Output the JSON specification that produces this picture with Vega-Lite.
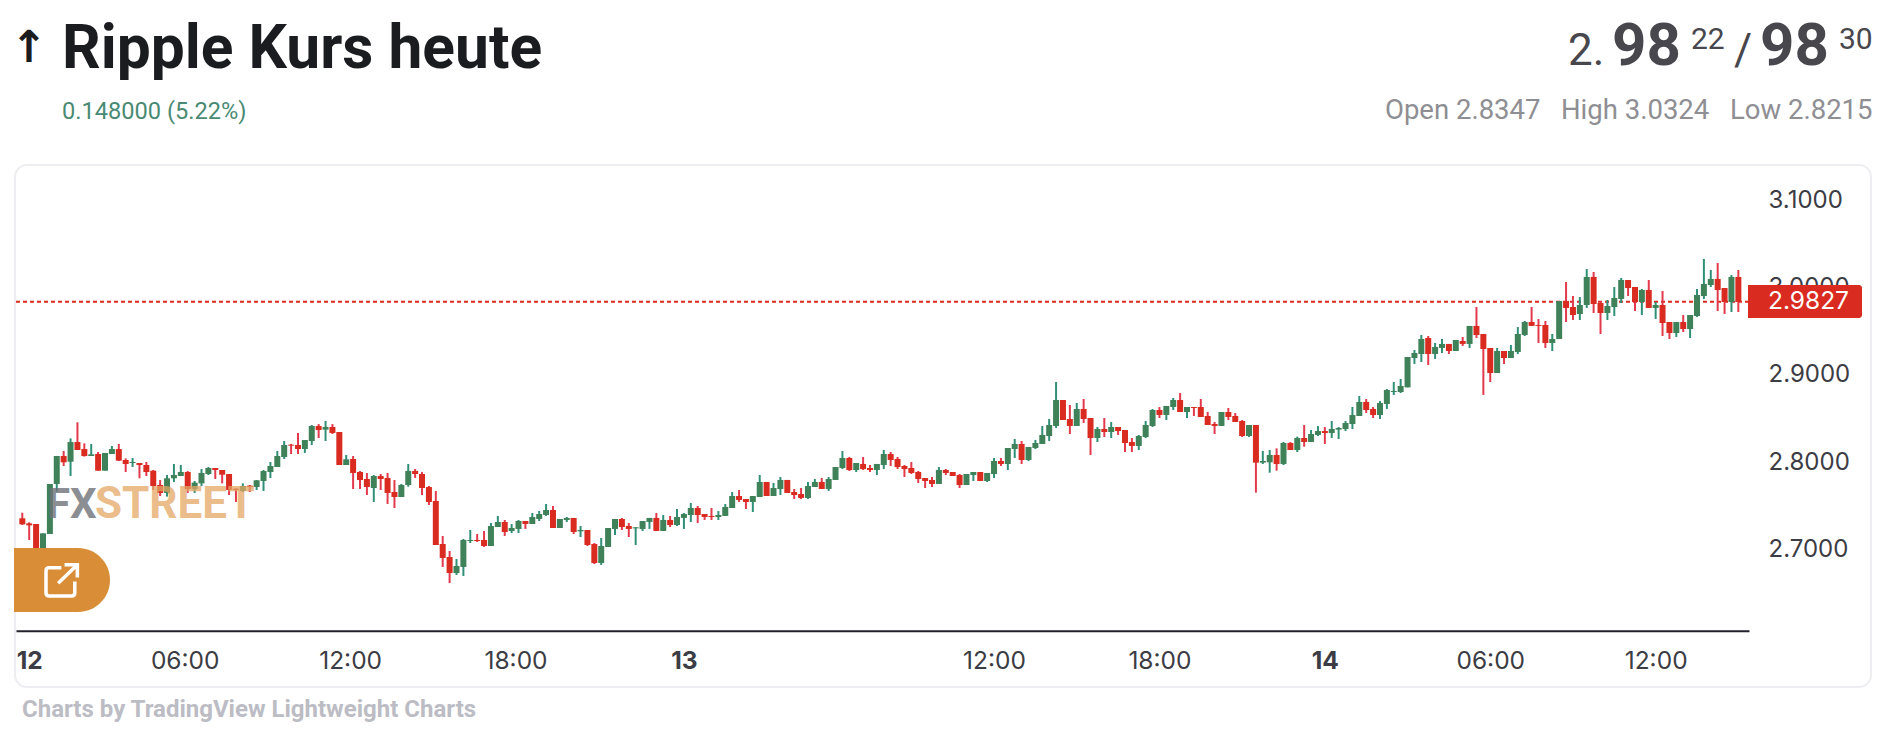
{"$schema":"https://vega.github.io/schema/vega-lite/v6.json","width":1900,"height":735,"padding":0,"autosize":"none","background":"#ffffff","config":{"view":{"stroke":null},"font":"Roboto"},"data":{"values":[{}]},"datasets":{"candles":[
{"bar":0,"open":2.7348,"high":2.7412,"low":2.7271,"close":2.7279},
{"bar":1,"open":2.7290,"high":2.7302,"low":2.7100,"close":2.7267},
{"bar":2,"open":2.7283,"high":2.7283,"low":2.6985,"close":2.6985},
{"bar":3,"open":2.6947,"high":2.7176,"low":2.6947,"close":2.7176},
{"bar":4,"open":2.7168,"high":2.7741,"low":2.7168,"close":2.7741},
{"bar":5,"open":2.7741,"high":2.8061,"low":2.7653,"close":2.8061},
{"bar":6,"open":2.8061,"high":2.8118,"low":2.7947,"close":2.7989},
{"bar":7,"open":2.7996,"high":2.8263,"low":2.7832,"close":2.8221},
{"bar":8,"open":2.8221,"high":2.8447,"low":2.8130,"close":2.8130},
{"bar":9,"open":2.8141,"high":2.8206,"low":2.8054,"close":2.8061},
{"bar":10,"open":2.8061,"high":2.8199,"low":2.8061,"close":2.8080},
{"bar":11,"open":2.8084,"high":2.8107,"low":2.7893,"close":2.7893},
{"bar":12,"open":2.7893,"high":2.8096,"low":2.7893,"close":2.8096},
{"bar":13,"open":2.8084,"high":2.8176,"low":2.8084,"close":2.8141},
{"bar":14,"open":2.8141,"high":2.8199,"low":2.8004,"close":2.8008},
{"bar":15,"open":2.8015,"high":2.8034,"low":2.7878,"close":2.7970},
{"bar":16,"open":2.7981,"high":2.8038,"low":2.7935,"close":2.7993},
{"bar":17,"open":2.7981,"high":2.7981,"low":2.7806,"close":2.7958},
{"bar":18,"open":2.7958,"high":2.7993,"low":2.7832,"close":2.7878},
{"bar":19,"open":2.7893,"high":2.7901,"low":2.7672,"close":2.7718},
{"bar":20,"open":2.7729,"high":2.7786,"low":2.7603,"close":2.7638},
{"bar":21,"open":2.7638,"high":2.7844,"low":2.7596,"close":2.7806},
{"bar":22,"open":2.7806,"high":2.7970,"low":2.7764,"close":2.7844},
{"bar":23,"open":2.7832,"high":2.7958,"low":2.7832,"close":2.7878},
{"bar":24,"open":2.7878,"high":2.7889,"low":2.7638,"close":2.7683},
{"bar":25,"open":2.7683,"high":2.7775,"low":2.7638,"close":2.7756},
{"bar":26,"open":2.7748,"high":2.7912,"low":2.7718,"close":2.7867},
{"bar":27,"open":2.7855,"high":2.7935,"low":2.7844,"close":2.7924},
{"bar":28,"open":2.7924,"high":2.7924,"low":2.7798,"close":2.7901},
{"bar":29,"open":2.7901,"high":2.7901,"low":2.7748,"close":2.7847},
{"bar":30,"open":2.7855,"high":2.7855,"low":2.7615,"close":2.7672},
{"bar":31,"open":2.7687,"high":2.7691,"low":2.7535,"close":2.7672},
{"bar":32,"open":2.7661,"high":2.7748,"low":2.7649,"close":2.7718},
{"bar":33,"open":2.7722,"high":2.7729,"low":2.7649,"close":2.7706},
{"bar":34,"open":2.7706,"high":2.7786,"low":2.7672,"close":2.7783},
{"bar":35,"open":2.7775,"high":2.7901,"low":2.7661,"close":2.7889},
{"bar":36,"open":2.7878,"high":2.7993,"low":2.7809,"close":2.7947},
{"bar":37,"open":2.7935,"high":2.8118,"low":2.7935,"close":2.8061},
{"bar":38,"open":2.8050,"high":2.8233,"low":2.8027,"close":2.8187},
{"bar":39,"open":2.8191,"high":2.8199,"low":2.8084,"close":2.8180},
{"bar":40,"open":2.8187,"high":2.8325,"low":2.8084,"close":2.8141},
{"bar":41,"open":2.8141,"high":2.8244,"low":2.8096,"close":2.8244},
{"bar":42,"open":2.8233,"high":2.8416,"low":2.8187,"close":2.8405},
{"bar":43,"open":2.8405,"high":2.8427,"low":2.8267,"close":2.8359},
{"bar":44,"open":2.8363,"high":2.8462,"low":2.8233,"close":2.8393},
{"bar":45,"open":2.8393,"high":2.8427,"low":2.8313,"close":2.8325},
{"bar":46,"open":2.8336,"high":2.8336,"low":2.7958,"close":2.7958},
{"bar":47,"open":2.7958,"high":2.8073,"low":2.7958,"close":2.8023},
{"bar":48,"open":2.8027,"high":2.8061,"low":2.7683,"close":2.7867},
{"bar":49,"open":2.7878,"high":2.7889,"low":2.7683,"close":2.7786},
{"bar":50,"open":2.7798,"high":2.7867,"low":2.7615,"close":2.7706},
{"bar":51,"open":2.7695,"high":2.7844,"low":2.7535,"close":2.7832},
{"bar":52,"open":2.7832,"high":2.7855,"low":2.7672,"close":2.7798},
{"bar":53,"open":2.7809,"high":2.7867,"low":2.7512,"close":2.7638},
{"bar":54,"open":2.7649,"high":2.7786,"low":2.7466,"close":2.7592},
{"bar":55,"open":2.7592,"high":2.7741,"low":2.7592,"close":2.7729},
{"bar":56,"open":2.7729,"high":2.7970,"low":2.7710,"close":2.7890},
{"bar":57,"open":2.7890,"high":2.7913,"low":2.7810,"close":2.7855},
{"bar":58,"open":2.7855,"high":2.7879,"low":2.7615,"close":2.7695},
{"bar":59,"open":2.7706,"high":2.7718,"low":2.7500,"close":2.7535},
{"bar":60,"open":2.7546,"high":2.7661,"low":2.7042,"close":2.7042},
{"bar":61,"open":2.7054,"high":2.7146,"low":2.6791,"close":2.6894},
{"bar":62,"open":2.6905,"high":2.6974,"low":2.6607,"close":2.6722},
{"bar":63,"open":2.6722,"high":2.6882,"low":2.6699,"close":2.6802},
{"bar":64,"open":2.6791,"high":2.7111,"low":2.6688,"close":2.7100},
{"bar":65,"open":2.7088,"high":2.7214,"low":2.7065,"close":2.7100},
{"bar":66,"open":2.7100,"high":2.7168,"low":2.7077,"close":2.7088},
{"bar":67,"open":2.7100,"high":2.7203,"low":2.7020,"close":2.7031},
{"bar":68,"open":2.7031,"high":2.7294,"low":2.7031,"close":2.7260},
{"bar":69,"open":2.7248,"high":2.7375,"low":2.7248,"close":2.7306},
{"bar":70,"open":2.7306,"high":2.7329,"low":2.7146,"close":2.7191},
{"bar":71,"open":2.7203,"high":2.7283,"low":2.7180,"close":2.7237},
{"bar":72,"open":2.7226,"high":2.7329,"low":2.7180,"close":2.7317},
{"bar":73,"open":2.7317,"high":2.7317,"low":2.7226,"close":2.7283},
{"bar":74,"open":2.7283,"high":2.7409,"low":2.7283,"close":2.7363},
{"bar":75,"open":2.7340,"high":2.7432,"low":2.7317,"close":2.7397},
{"bar":76,"open":2.7386,"high":2.7512,"low":2.7375,"close":2.7443},
{"bar":77,"open":2.7443,"high":2.7489,"low":2.7237,"close":2.7237},
{"bar":78,"open":2.7237,"high":2.7340,"low":2.7237,"close":2.7340},
{"bar":79,"open":2.7329,"high":2.7363,"low":2.7306,"close":2.7352},
{"bar":80,"open":2.7352,"high":2.7352,"low":2.7168,"close":2.7191},
{"bar":81,"open":2.7199,"high":2.7260,"low":2.7134,"close":2.7214},
{"bar":82,"open":2.7214,"high":2.7214,"low":2.7031,"close":2.7042},
{"bar":83,"open":2.7054,"high":2.7065,"low":2.6825,"close":2.6836},
{"bar":84,"open":2.6836,"high":2.7123,"low":2.6814,"close":2.7031},
{"bar":85,"open":2.7020,"high":2.7237,"low":2.7020,"close":2.7237},
{"bar":86,"open":2.7226,"high":2.7340,"low":2.7157,"close":2.7340},
{"bar":87,"open":2.7340,"high":2.7352,"low":2.7214,"close":2.7248},
{"bar":88,"open":2.7260,"high":2.7294,"low":2.7134,"close":2.7226},
{"bar":89,"open":2.7233,"high":2.7248,"low":2.7042,"close":2.7245},
{"bar":90,"open":2.7226,"high":2.7317,"low":2.7203,"close":2.7317},
{"bar":91,"open":2.7306,"high":2.7352,"low":2.7226,"close":2.7352},
{"bar":92,"open":2.7352,"high":2.7409,"low":2.7203,"close":2.7203},
{"bar":93,"open":2.7203,"high":2.7386,"low":2.7203,"close":2.7329},
{"bar":94,"open":2.7329,"high":2.7375,"low":2.7248,"close":2.7271},
{"bar":95,"open":2.7271,"high":2.7455,"low":2.7260,"close":2.7363},
{"bar":96,"open":2.7352,"high":2.7409,"low":2.7226,"close":2.7397},
{"bar":97,"open":2.7386,"high":2.7523,"low":2.7306,"close":2.7466},
{"bar":98,"open":2.7466,"high":2.7489,"low":2.7294,"close":2.7386},
{"bar":99,"open":2.7397,"high":2.7397,"low":2.7329,"close":2.7363},
{"bar":100,"open":2.7375,"high":2.7466,"low":2.7329,"close":2.7363},
{"bar":101,"open":2.7363,"high":2.7432,"low":2.7329,"close":2.7386},
{"bar":102,"open":2.7375,"high":2.7512,"low":2.7375,"close":2.7477},
{"bar":103,"open":2.7466,"high":2.7649,"low":2.7466,"close":2.7603},
{"bar":104,"open":2.7603,"high":2.7672,"low":2.7535,"close":2.7558},
{"bar":105,"open":2.7569,"high":2.7569,"low":2.7455,"close":2.7535},
{"bar":106,"open":2.7535,"high":2.7603,"low":2.7420,"close":2.7603},
{"bar":107,"open":2.7592,"high":2.7844,"low":2.7592,"close":2.7764},
{"bar":108,"open":2.7764,"high":2.7764,"low":2.7603,"close":2.7603},
{"bar":109,"open":2.7603,"high":2.7752,"low":2.7603,"close":2.7695},
{"bar":110,"open":2.7683,"high":2.7821,"low":2.7615,"close":2.7787},
{"bar":111,"open":2.7787,"high":2.7787,"low":2.7638,"close":2.7638},
{"bar":112,"open":2.7649,"high":2.7683,"low":2.7569,"close":2.7615},
{"bar":113,"open":2.7626,"high":2.7695,"low":2.7569,"close":2.7581},
{"bar":114,"open":2.7581,"high":2.7764,"low":2.7569,"close":2.7718},
{"bar":115,"open":2.7706,"high":2.7798,"low":2.7706,"close":2.7764},
{"bar":116,"open":2.7764,"high":2.7810,"low":2.7683,"close":2.7684},
{"bar":117,"open":2.7684,"high":2.7821,"low":2.7661,"close":2.7798},
{"bar":118,"open":2.7787,"high":2.7935,"low":2.7787,"close":2.7935},
{"bar":119,"open":2.7924,"high":2.8118,"low":2.7912,"close":2.8038},
{"bar":120,"open":2.8038,"high":2.8050,"low":2.7890,"close":2.7901},
{"bar":121,"open":2.7901,"high":2.7981,"low":2.7878,"close":2.7981},
{"bar":122,"open":2.7970,"high":2.8050,"low":2.7901,"close":2.7912},
{"bar":123,"open":2.7924,"high":2.7958,"low":2.7878,"close":2.7901},
{"bar":124,"open":2.7901,"high":2.7970,"low":2.7844,"close":2.7970},
{"bar":125,"open":2.7958,"high":2.8130,"low":2.7912,"close":2.8084},
{"bar":126,"open":2.8084,"high":2.8107,"low":2.7947,"close":2.8016},
{"bar":127,"open":2.8027,"high":2.8050,"low":2.7912,"close":2.7935},
{"bar":128,"open":2.7947,"high":2.7958,"low":2.7821,"close":2.7912},
{"bar":129,"open":2.7924,"high":2.7993,"low":2.7855,"close":2.7867},
{"bar":130,"open":2.7878,"high":2.7890,"low":2.7752,"close":2.7798},
{"bar":131,"open":2.7809,"high":2.7809,"low":2.7695,"close":2.7775},
{"bar":132,"open":2.7787,"high":2.7821,"low":2.7706,"close":2.7741},
{"bar":133,"open":2.7741,"high":2.7935,"low":2.7741,"close":2.7901},
{"bar":134,"open":2.7901,"high":2.7912,"low":2.7844,"close":2.7867},
{"bar":135,"open":2.7878,"high":2.7878,"low":2.7832,"close":2.7832},
{"bar":136,"open":2.7844,"high":2.7855,"low":2.7695,"close":2.7729},
{"bar":137,"open":2.7729,"high":2.7855,"low":2.7729,"close":2.7855},
{"bar":138,"open":2.7844,"high":2.7878,"low":2.7775,"close":2.7878},
{"bar":139,"open":2.7878,"high":2.7878,"low":2.7775,"close":2.7775},
{"bar":140,"open":2.7775,"high":2.7867,"low":2.7764,"close":2.7867},
{"bar":141,"open":2.7855,"high":2.8038,"low":2.7809,"close":2.8004},
{"bar":142,"open":2.8004,"high":2.8038,"low":2.7947,"close":2.7970},
{"bar":143,"open":2.7970,"high":2.8153,"low":2.7901,"close":2.8153},
{"bar":144,"open":2.8141,"high":2.8256,"low":2.8038,"close":2.8199},
{"bar":145,"open":2.8199,"high":2.8233,"low":2.7970,"close":2.8016},
{"bar":146,"open":2.8016,"high":2.8164,"low":2.8004,"close":2.8164},
{"bar":147,"open":2.8153,"high":2.8245,"low":2.8141,"close":2.8210},
{"bar":148,"open":2.8199,"high":2.8405,"low":2.8199,"close":2.8302},
{"bar":149,"open":2.8290,"high":2.8485,"low":2.8233,"close":2.8416},
{"bar":150,"open":2.8405,"high":2.8908,"low":2.8382,"close":2.8702},
{"bar":151,"open":2.8702,"high":2.8702,"low":2.8473,"close":2.8473},
{"bar":152,"open":2.8485,"high":2.8645,"low":2.8313,"close":2.8405},
{"bar":153,"open":2.8405,"high":2.8668,"low":2.8405,"close":2.8599},
{"bar":154,"open":2.8599,"high":2.8714,"low":2.8439,"close":2.8485},
{"bar":155,"open":2.8496,"high":2.8496,"low":2.8073,"close":2.8267},
{"bar":156,"open":2.8267,"high":2.8393,"low":2.8222,"close":2.8370},
{"bar":157,"open":2.8370,"high":2.8496,"low":2.8279,"close":2.8336},
{"bar":158,"open":2.8336,"high":2.8450,"low":2.8267,"close":2.8393},
{"bar":159,"open":2.8393,"high":2.8393,"low":2.8302,"close":2.8347},
{"bar":160,"open":2.8359,"high":2.8359,"low":2.8107,"close":2.8210},
{"bar":161,"open":2.8222,"high":2.8267,"low":2.8107,"close":2.8176},
{"bar":162,"open":2.8176,"high":2.8302,"low":2.8130,"close":2.8290},
{"bar":163,"open":2.8279,"high":2.8462,"low":2.8267,"close":2.8416},
{"bar":164,"open":2.8405,"high":2.8599,"low":2.8393,"close":2.8588},
{"bar":165,"open":2.8588,"high":2.8622,"low":2.8496,"close":2.8531},
{"bar":166,"open":2.8531,"high":2.8634,"low":2.8473,"close":2.8634},
{"bar":167,"open":2.8622,"high":2.8725,"low":2.8588,"close":2.8702},
{"bar":168,"open":2.8702,"high":2.8783,"low":2.8565,"close":2.8565},
{"bar":169,"open":2.8565,"high":2.8622,"low":2.8496,"close":2.8622},
{"bar":170,"open":2.8622,"high":2.8622,"low":2.8519,"close":2.8611},
{"bar":171,"open":2.8622,"high":2.8714,"low":2.8508,"close":2.8508},
{"bar":172,"open":2.8519,"high":2.8565,"low":2.8416,"close":2.8416},
{"bar":173,"open":2.8428,"high":2.8450,"low":2.8313,"close":2.8405},
{"bar":174,"open":2.8405,"high":2.8565,"low":2.8405,"close":2.8565},
{"bar":175,"open":2.8565,"high":2.8611,"low":2.8473,"close":2.8508},
{"bar":176,"open":2.8519,"high":2.8553,"low":2.8450,"close":2.8450},
{"bar":177,"open":2.8462,"high":2.8473,"low":2.8279,"close":2.8290},
{"bar":178,"open":2.8290,"high":2.8416,"low":2.8279,"close":2.8416},
{"bar":179,"open":2.8416,"high":2.8416,"low":2.7642,"close":2.7985},
{"bar":180,"open":2.7985,"high":2.8119,"low":2.7970,"close":2.8004},
{"bar":181,"open":2.7989,"high":2.8130,"low":2.7870,"close":2.8073},
{"bar":182,"open":2.8073,"high":2.8149,"low":2.7893,"close":2.7970},
{"bar":183,"open":2.7970,"high":2.8222,"low":2.7958,"close":2.8210},
{"bar":184,"open":2.8210,"high":2.8222,"low":2.8130,"close":2.8130},
{"bar":185,"open":2.8130,"high":2.8283,"low":2.8107,"close":2.8267},
{"bar":186,"open":2.8267,"high":2.8416,"low":2.8168,"close":2.8222},
{"bar":187,"open":2.8222,"high":2.8359,"low":2.8222,"close":2.8313},
{"bar":188,"open":2.8302,"high":2.8404,"low":2.8290,"close":2.8347},
{"bar":189,"open":2.8347,"high":2.8393,"low":2.8199,"close":2.8324},
{"bar":190,"open":2.8324,"high":2.8462,"low":2.8267,"close":2.8370},
{"bar":191,"open":2.8363,"high":2.8393,"low":2.8256,"close":2.8382},
{"bar":192,"open":2.8370,"high":2.8462,"low":2.8347,"close":2.8439},
{"bar":193,"open":2.8427,"high":2.8622,"low":2.8370,"close":2.8530},
{"bar":194,"open":2.8519,"high":2.8748,"low":2.8519,"close":2.8680},
{"bar":195,"open":2.8680,"high":2.8714,"low":2.8553,"close":2.8588},
{"bar":196,"open":2.8600,"high":2.8622,"low":2.8496,"close":2.8530},
{"bar":197,"open":2.8530,"high":2.8691,"low":2.8485,"close":2.8668},
{"bar":198,"open":2.8657,"high":2.8828,"low":2.8600,"close":2.8817},
{"bar":199,"open":2.8794,"high":2.8908,"low":2.8760,"close":2.8805},
{"bar":200,"open":2.8794,"high":2.8943,"low":2.8782,"close":2.8863},
{"bar":201,"open":2.8847,"high":2.9195,"low":2.8847,"close":2.9195},
{"bar":202,"open":2.9183,"high":2.9275,"low":2.9115,"close":2.9240},
{"bar":203,"open":2.9229,"high":2.9446,"low":2.9137,"close":2.9401},
{"bar":204,"open":2.9412,"high":2.9435,"low":2.9103,"close":2.9229},
{"bar":205,"open":2.9229,"high":2.9355,"low":2.9172,"close":2.9309},
{"bar":206,"open":2.9298,"high":2.9401,"low":2.9240,"close":2.9344},
{"bar":207,"open":2.9344,"high":2.9344,"low":2.9229,"close":2.9263},
{"bar":208,"open":2.9263,"high":2.9389,"low":2.9263,"close":2.9389},
{"bar":209,"open":2.9378,"high":2.9424,"low":2.9321,"close":2.9344},
{"bar":210,"open":2.9344,"high":2.9550,"low":2.9298,"close":2.9550},
{"bar":211,"open":2.9550,"high":2.9767,"low":2.9412,"close":2.9446},
{"bar":212,"open":2.9458,"high":2.9458,"low":2.8760,"close":2.9286},
{"bar":213,"open":2.9298,"high":2.9298,"low":2.8908,"close":2.9011},
{"bar":214,"open":2.9011,"high":2.9298,"low":2.9011,"close":2.9263},
{"bar":215,"open":2.9263,"high":2.9263,"low":2.9115,"close":2.9183},
{"bar":216,"open":2.9183,"high":2.9332,"low":2.9183,"close":2.9263},
{"bar":217,"open":2.9252,"high":2.9538,"low":2.9229,"close":2.9458},
{"bar":218,"open":2.9446,"high":2.9607,"low":2.9435,"close":2.9595},
{"bar":219,"open":2.9595,"high":2.9767,"low":2.9550,"close":2.9550},
{"bar":220,"open":2.9561,"high":2.9630,"low":2.9355,"close":2.9550},
{"bar":221,"open":2.9561,"high":2.9607,"low":2.9298,"close":2.9355},
{"bar":222,"open":2.9355,"high":2.9458,"low":2.9263,"close":2.9401},
{"bar":223,"open":2.9401,"high":2.9836,"low":2.9401,"close":2.9836},
{"bar":224,"open":2.9836,"high":3.0053,"low":2.9595,"close":2.9756},
{"bar":225,"open":2.9767,"high":2.9893,"low":2.9618,"close":2.9675},
{"bar":226,"open":2.9687,"high":2.9881,"low":2.9618,"close":2.9790},
{"bar":227,"open":2.9790,"high":3.0202,"low":2.9756,"close":3.0111},
{"bar":228,"open":3.0111,"high":3.0168,"low":2.9698,"close":2.9801},
{"bar":229,"open":2.9813,"high":2.9836,"low":2.9458,"close":2.9698},
{"bar":230,"open":2.9698,"high":2.9847,"low":2.9618,"close":2.9778},
{"bar":231,"open":2.9767,"high":2.9996,"low":2.9664,"close":2.9870},
{"bar":232,"open":2.9859,"high":3.0099,"low":2.9813,"close":3.0076},
{"bar":233,"open":3.0076,"high":3.0076,"low":2.9893,"close":2.9984},
{"bar":234,"open":2.9996,"high":2.9996,"low":2.9721,"close":2.9824},
{"bar":235,"open":2.9824,"high":2.9973,"low":2.9675,"close":2.9962},
{"bar":236,"open":2.9962,"high":3.0076,"low":2.9756,"close":2.9756},
{"bar":237,"open":2.9756,"high":2.9824,"low":2.9630,"close":2.9790},
{"bar":238,"open":2.9790,"high":2.9950,"low":2.9435,"close":2.9584},
{"bar":239,"open":2.9595,"high":2.9595,"low":2.9401,"close":2.9469},
{"bar":240,"open":2.9469,"high":2.9595,"low":2.9424,"close":2.9595},
{"bar":241,"open":2.9595,"high":2.9675,"low":2.9481,"close":2.9515},
{"bar":242,"open":2.9515,"high":2.9675,"low":2.9412,"close":2.9675},
{"bar":243,"open":2.9664,"high":2.9973,"low":2.9653,"close":2.9904},
{"bar":244,"open":2.9893,"high":3.0317,"low":2.9859,"close":3.0030},
{"bar":245,"open":3.0019,"high":3.0191,"low":2.9996,"close":3.0088},
{"bar":246,"open":3.0088,"high":3.0271,"low":2.9721,"close":2.9962},
{"bar":247,"open":2.9984,"high":2.9984,"low":2.9687,"close":2.9824},
{"bar":248,"open":2.9824,"high":3.0133,"low":2.9710,"close":3.0111},
{"bar":249,"open":3.0111,"high":3.0191,"low":2.9710,"close":2.9824}
]},"layer":[
{"mark":{"type":"rule","x":16,"x2":1748,"color":"#d92b20","strokeWidth":2,"strokeDash":[4,3]},"encoding":{"y":{"datum":2.9827,"type":"quantitative","scale":{"domain":[2.60613,3.1381],"range":[630.7,166],"nice":false,"zero":false}}}},
{"data":{"name":"candles"},"mark":{"type":"rule","strokeWidth":2},"encoding":{"x":{"field":"bar","type":"quantitative","scale":{"domain":[-0.19,249.82],"range":[16,1749],"nice":false,"zero":false},"axis":{"orient":"bottom","offset":-104.3,"title":null,"grid":false,"ticks":false,"domainColor":"#22222e","domainWidth":2,"labelPadding":19,"labelFont":"Inter","labelFontSize":24.5,"labelColor":"#3c3c44","labelOverlap":false,"labelFlush":false,"labelBound":false,"values":[0,24,48,72,96,141,165,189,213,237],"labelExpr":"datum.value==0?'12':datum.value==96?'13':datum.value==189?'14':(datum.value==24||datum.value==213)?'06:00':(datum.value==48||datum.value==141||datum.value==237)?'12:00':'18:00'","labelFontWeight":{"expr":"(datum.value==0||datum.value==96||datum.value==189)?'bold':'normal'"},"labelAlign":{"expr":"datum.value==0?'left':'center'"},"labelOffset":{"expr":"datum.value==0?-6:(datum.value<=72?-3:0)"}}},"y":{"field":"low","type":"quantitative","scale":{"domain":[2.60613,3.1381],"range":[630.7,166],"nice":false,"zero":false},"axis":{"orient":"right","offset":-151,"title":null,"grid":false,"ticks":false,"domain":false,"labelPadding":19,"labelFont":"Inter","labelFontSize":24,"labelColor":"#3c3c44","values":[2.7,2.8,2.9,3.0,3.1],"format":".4f","labelAlign":"left","labelBaseline":"middle","labelOffset":1}},"y2":{"field":"high"},"color":{"condition":{"test":"datum.close>=datum.open","value":"#2f9077"},"value":"#e23a4c"}}},
{"data":{"name":"candles"},"mark":{"type":"bar","size":6},"encoding":{"x":{"field":"bar","type":"quantitative"},"y":{"field":"open","type":"quantitative"},"y2":{"field":"close"},"color":{"condition":{"test":"datum.close>=datum.open","value":"#3f8158"},"value":"#d92b20"}}},
{"mark":{"type":"rect","x":0,"x2":15,"y":166,"y2":630,"fill":"#ffffff"}},
{"mark":{"type":"rect","x":15,"x2":1871,"y":165,"y2":687,"fill":null,"stroke":"#eeeef2","strokeWidth":2,"cornerRadius":12}},
{"mark":{"type":"rect","x":1748,"x2":1862,"y":285,"y2":318,"fill":"#d92b20","cornerRadiusTopRight":3,"cornerRadiusBottomRight":3}},
{"mark":{"type":"text","text":"2.9827","x":1768,"font":"Inter","fontSize":24.5,"color":"#ffffff","align":"left","baseline":"middle"},"encoding":{"y":{"datum":2.9827,"type":"quantitative"}}},
{"mark":{"type":"text","text":"FX","x":47,"y":518,"fontWeight":"bold","fontSize":42,"color":"#6f7378","opacity":0.8,"align":"left","baseline":"alphabetic"}},
{"mark":{"type":"text","text":"STREET","x":95,"y":518,"fontWeight":"bold","fontSize":44,"color":"#e3a765","opacity":0.75,"align":"left","baseline":"alphabetic"}},
{"mark":{"type":"rect","x":14,"x2":110,"y":548,"y2":612,"fill":"#d98d36","cornerRadiusTopRight":32,"cornerRadiusBottomRight":32}},
{"mark":{"type":"point","x":62,"y":580,"size":4096,"shape":"M-0.02,-0.38 L-0.4,-0.38 Q-0.5,-0.38 -0.5,-0.28 L-0.5,0.4 Q-0.5,0.5 -0.4,0.5 L0.3,0.5 Q0.4,0.5 0.4,0.4 L0.4,0.05 M-0.12,0.1 L0.48,-0.48 M0.08,-0.48 L0.48,-0.48 L0.48,-0.08","filled":false,"stroke":"#ffffff","strokeWidth":3.5,"opacity":1}},
{"mark":{"type":"text","text":"↑","x":29,"y":62,"font":"DejaVu Sans","fontWeight":"bold","fontSize":44,"color":"#1b1c20","align":"center","baseline":"alphabetic"}},
{"mark":{"type":"text","text":"Ripple Kurs heute","x":62,"y":68,"fontWeight":"bold","fontSize":60.5,"color":"#1b1c20","align":"left","baseline":"alphabetic"}},
{"mark":{"type":"text","text":"0.148000 (5.22%)","x":62,"y":119,"fontSize":23.6,"color":"#4a8a73","align":"left","baseline":"alphabetic"}},
{"mark":{"type":"text","text":"2.","x":1568,"y":65,"fontSize":44,"color":"#47474d","align":"left","baseline":"alphabetic"}},
{"mark":{"type":"text","text":"98","x":1612,"y":65,"fontWeight":"bold","fontSize":60,"color":"#47474d","align":"left","baseline":"alphabetic"}},
{"mark":{"type":"text","text":"22","x":1691,"y":49,"fontSize":30,"color":"#47474d","align":"left","baseline":"alphabetic"}},
{"mark":{"type":"text","text":"/","x":1734,"y":65,"fontSize":44,"color":"#47474d","align":"left","baseline":"alphabetic"}},
{"mark":{"type":"text","text":"98","x":1760,"y":65,"fontWeight":"bold","fontSize":60,"color":"#47474d","align":"left","baseline":"alphabetic"}},
{"mark":{"type":"text","text":"30","x":1839,"y":49,"fontSize":30,"color":"#47474d","align":"left","baseline":"alphabetic"}},
{"mark":{"type":"text","text":"Open 2.8347","x":1385,"y":119,"fontSize":27.5,"color":"#8e8e93","align":"left","baseline":"alphabetic"}},
{"mark":{"type":"text","text":"High 3.0324","x":1561,"y":119,"fontSize":27.5,"color":"#8e8e93","align":"left","baseline":"alphabetic"}},
{"mark":{"type":"text","text":"Low 2.8215","x":1730,"y":119,"fontSize":27.5,"color":"#8e8e93","align":"left","baseline":"alphabetic"}},
{"mark":{"type":"text","text":"Charts by TradingView Lightweight Charts","x":22,"y":717,"fontWeight":"bold","fontSize":24,"color":"#bcbcc4","align":"left","baseline":"alphabetic"}}
]}
